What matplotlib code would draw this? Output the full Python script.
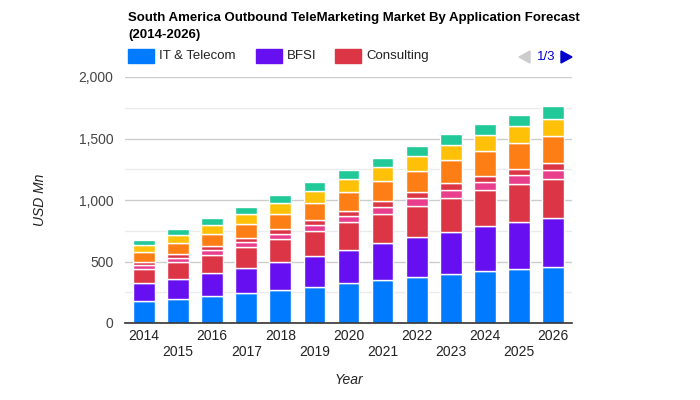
import numpy as np
import matplotlib.pyplot as plt
from matplotlib.patches import Rectangle, Polygon
from matplotlib.ticker import MultipleLocator, FuncFormatter

plt.rcParams['font.family'] = ['Liberation Sans', 'DejaVu Sans']

years = [str(y) for y in range(2014, 2027)]
series_names = ['IT & Telecom', 'BFSI', 'Consulting', 'Series 4', 'Series 5',
                'Series 6', 'Series 7', 'Series 8']
it_telecom = [179, 195, 220, 244, 268, 295, 325, 350, 377, 401, 423, 439, 455]
bfsi = [146, 163, 189, 203, 225, 252, 268, 300, 325, 339, 366, 382, 399]
consulting = [114, 138, 144, 168, 190, 201, 228, 236, 249, 276, 292, 309, 317]
series4 = [33, 32, 40, 44, 41, 49, 49, 60, 65, 68, 65, 73, 73]
series5 = [24, 33, 36, 35, 40, 43, 41, 46, 49, 54, 49, 49, 57]
series6 = [81, 87, 95, 111, 122, 136, 154, 162, 171, 187, 203, 211, 219]
series7 = [57, 67, 73, 81, 90, 97, 103, 114, 122, 122, 133, 139, 139]
series8 = [44, 46, 54, 57, 62, 71, 73, 76, 84, 92, 90, 92, 103]
colors = ['#007bff', '#6610f2', '#dc3545', '#e83e8c', '#dc3545',
          '#fd7e14', '#ffc107', '#20c997']

data = [it_telecom, bfsi, consulting, series4, series5, series6, series7, series8]

fig = plt.figure(figsize=(7, 4), dpi=100)
ax = fig.add_axes([125 / 700, 77 / 400, 447 / 700, 246 / 400])

x = np.arange(len(years))
bottom = np.zeros(len(years))
for vals, col, name in zip(data, colors, series_names):
    ax.bar(x, vals, 0.64, bottom=bottom, color=col, edgecolor='white',
           linewidth=1, label=name, zorder=3)
    bottom += np.array(vals)

ax.set_xlim(-0.56, 12.56)
ax.set_ylim(0, 2000)
ax.yaxis.set_major_locator(MultipleLocator(500))
ax.yaxis.set_minor_locator(MultipleLocator(250))
ax.yaxis.set_major_formatter(FuncFormatter(lambda v, p: f'{int(v):,}'))
ax.grid(axis='y', which='major', color='#cccccc', linewidth=1, zorder=0)
ax.grid(axis='y', which='minor', color='#ebebeb', linewidth=1, zorder=0)
for s in ['top', 'right', 'left']:
    ax.spines[s].set_visible(False)
ax.spines['bottom'].set_color('#333333')
ax.spines['bottom'].set_linewidth(1.2)
ax.spines['bottom'].set_zorder(4)
ax.tick_params(axis='y', which='both', length=0, labelsize=10,
               labelcolor='#444444', pad=8.5)
ax.tick_params(axis='x', length=0, labelsize=10, labelcolor='#222222', pad=4.5)
ax.set_xticks(x)
ax.set_xticklabels([y if i % 2 == 0 else '\n' + y for i, y in enumerate(years)])
ax.set_xlabel('Year', fontstyle='italic', fontsize=10, color='#222222')
ax.set_ylabel('USD Mn', fontstyle='italic', fontsize=10, color='#222222')
ax.xaxis.set_label_coords(0.5, (323 - 380) / 246)
ax.xaxis.label.set_va('center')
ax.yaxis.set_label_coords((40 - 125) / 447, 0.5)
ax.yaxis.label.set_va('center')

# title
fig.text(128 / 700, 1 - 18 / 400, 'South America Outbound TeleMarketing Market By Application Forecast',
         fontsize=9.5, fontweight='bold', va='center', color='#000000')
fig.text(128 / 700, 1 - 35 / 400, '(2014-2026)',
         fontsize=9.5, fontweight='bold', va='center', color='#000000')

# legend (first page)
leg = [(128, 'IT & Telecom', colors[0]), (256, 'BFSI', colors[1]), (335, 'Consulting', colors[2])]
for lx, name, col in leg:
    fig.patches.append(Rectangle((lx / 700, 1 - 63 / 400), 26 / 700, 14 / 400,
                                 transform=fig.transFigure, color=col))
    fig.text((lx + 31) / 700, 1 - 56 / 400, name, fontsize=9.5, va='center', color='#222222')

# pagination
fig.patches.append(Polygon([[519 / 700, 1 - 57 / 400], [530 / 700, 1 - 51 / 400], [530 / 700, 1 - 63 / 400]],
                           closed=True, transform=fig.transFigure, color='#cccccc'))
fig.text(537 / 700, 1 - 57 / 400, '1/3', fontsize=9.5, va='center', color='#0000cc')
fig.patches.append(Polygon([[572 / 700, 1 - 57 / 400], [561 / 700, 1 - 51 / 400], [561 / 700, 1 - 63 / 400]],
                           closed=True, transform=fig.transFigure, color='#0000cc'))

fig.savefig('out.png', dpi=100)
